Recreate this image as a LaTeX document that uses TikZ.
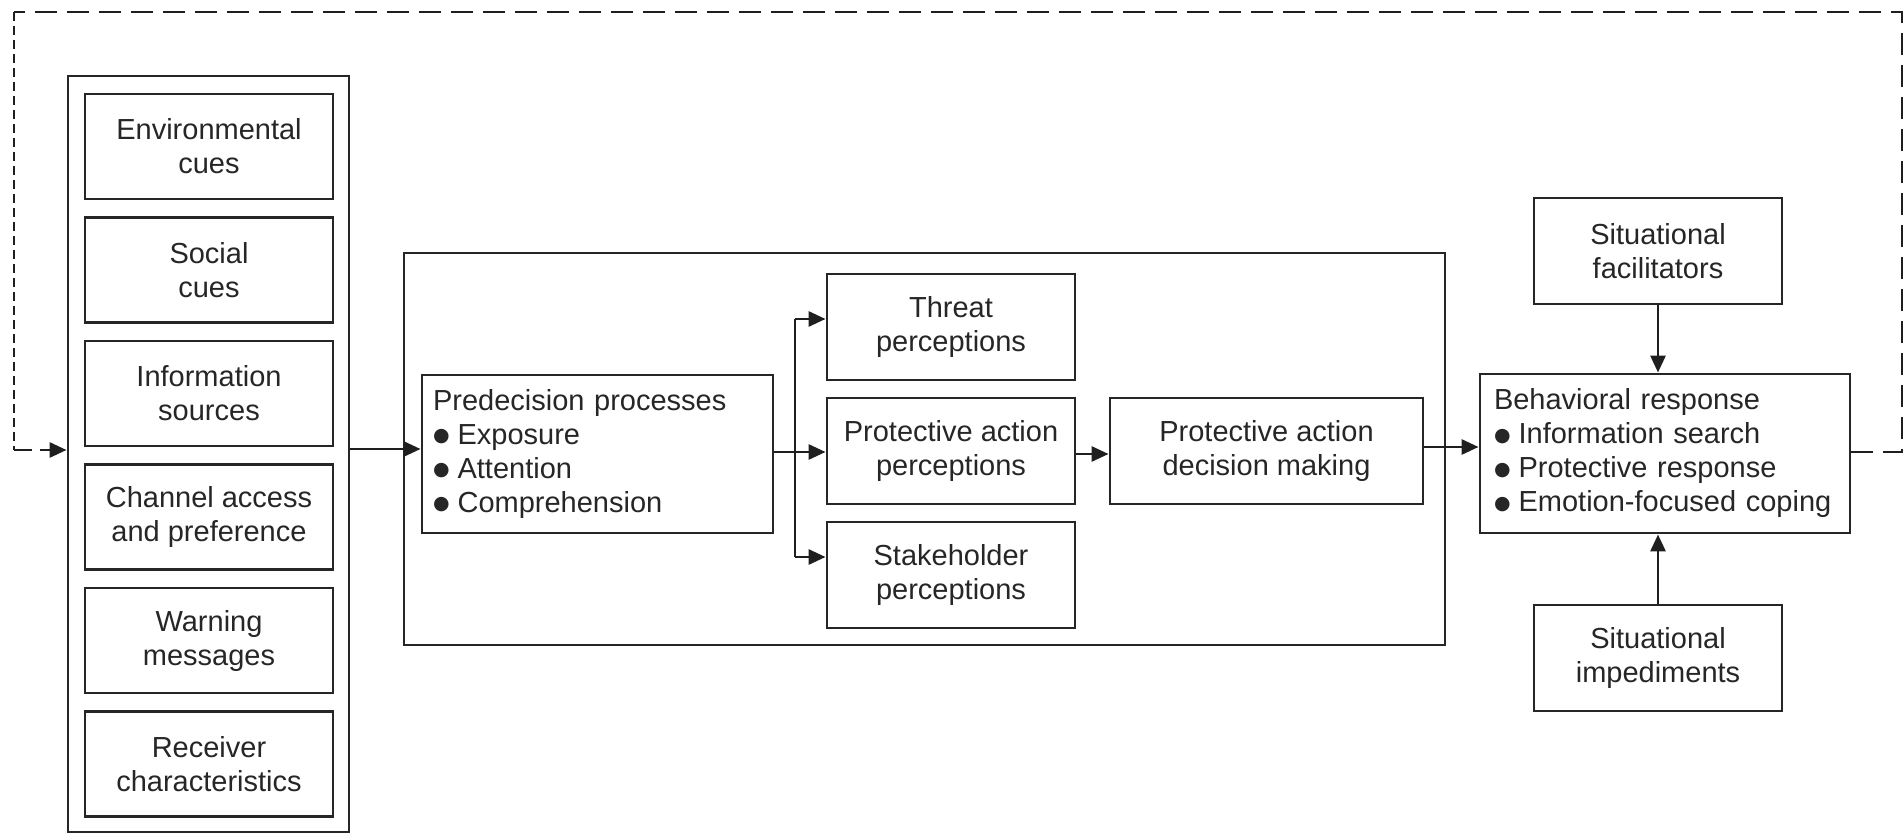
\documentclass[tikz,border=0pt]{standalone}
\usepackage{fontspec}
\setmainfont{Liberation Sans}
\newfontfamily\dvfont{DejaVu Sans}
\usetikzlibrary{arrows.meta}
\newcommand{\bul}{\raisebox{2.5pt}{\dvfont\fontsize{19}{19}\selectfont ●}\hspace{8pt}}
\begin{document}
\begin{tikzpicture}[x=1pt,y=-1pt,
  every node/.style={font=\fontsize{29}{34}\selectfont, text=black!85},
  box/.style={draw=black!85, line width=2.9pt, rectangle, inner sep=0pt, align=center},
  sbox/.style={box, minimum width=248pt, minimum height=105pt},
  arr/.style={draw=black!88, line width=2.9pt, -{Triangle[length=17pt,width=15pt]}},
  ln/.style={draw=black!88, line width=2.9pt},
  dsh/.style={draw=black!88, line width=2.9pt, dash pattern=on 22pt off 10pt},
  dshs/.style={draw=black!88, line width=2.9pt, dash pattern=on 9pt off 5pt},
]
\useasboundingbox (0,0) rectangle (1904,834);
% left column
\node[box, minimum width=281pt, minimum height=756pt] (outer) at (208.5,454) {};
\node[sbox] (env) at (209,146.5) {Environmental\\cues};
\node[sbox] (soc) at (209,270) {Social\\cues};
\node[sbox] (info) at (209,393.5) {Information\\sources};
\node[sbox] (chan) at (209,517) {Channel access\\and preference};
\node[sbox] (warn) at (209,640.5) {Warning\\messages};
\node[sbox] (recv) at (209,764) {Receiver\\characteristics};
% middle
\node[box, minimum width=1041pt, minimum height=392pt] (mid) at (924.5,449) {};
\node[box, minimum width=351pt, minimum height=158pt, text width=329pt, align=left] (pre) at (597.5,454)
  {Predecision processes\\\bul Exposure\\\bul Attention\\\bul Comprehension};
\node[sbox, minimum height=106pt] (threat) at (951,327) {Threat\\perceptions};
\node[sbox, minimum height=106pt] (pa) at (951,451) {Protective action\\perceptions};
\node[sbox, minimum height=106pt] (stake) at (951,575) {Stakeholder\\perceptions};
\node[box, minimum width=313pt, minimum height=106pt] (dec) at (1266.5,451) {Protective action\\decision making};
% right
\node[box, minimum width=370pt, minimum height=159pt, text width=342pt, align=left] (beh) at (1665,453.5)
  {Behavioral response\\\bul Information search\\\bul Protective response\\\bul Emotion-focused coping};
\node[sbox, minimum height=106pt] (fac) at (1658,251) {Situational\\facilitators};
\node[sbox, minimum height=106pt] (imp) at (1658,658) {Situational\\impediments};
% connectors
\draw[arr] (outer.east |- 0,449) -- (pre.west |- 0,449);
\coordinate (bt) at (795,319);
\coordinate (bb) at (795,557);
\draw[ln] (bt) -- (bb);
\draw[arr] (bt) -- (bt -| threat.west);
\draw[arr] (bb) -- (bb -| stake.west);
\draw[arr] (pre.east |- 0,452) -- (pa.west |- 0,452);
\draw[arr] (pa.east |- 0,454) -- (dec.west |- 0,454);
\draw[arr] (dec.east |- 0,447) -- (beh.west |- 0,447);
\draw[arr] (fac.south) -- (beh.north -| fac.south);
\draw[arr] (imp.north) -- (beh.south -| imp.north);
% feedback loop
\coordinate (r1) at (1902,452);
\coordinate (r2) at (1902,12);
\coordinate (l1) at (14,12);
\coordinate (l2) at (14,450);
\draw[dsh] (beh.east |- r1) -- (r1) -- (r2) -- (l1);
\draw[dshs] (l1) -- (l2);
\draw[dsh, dash pattern=on 18pt off 8pt, -{Triangle[length=17pt,width=15pt]}] (l2) -- (outer.west |- l2);
\end{tikzpicture}
\end{document}
